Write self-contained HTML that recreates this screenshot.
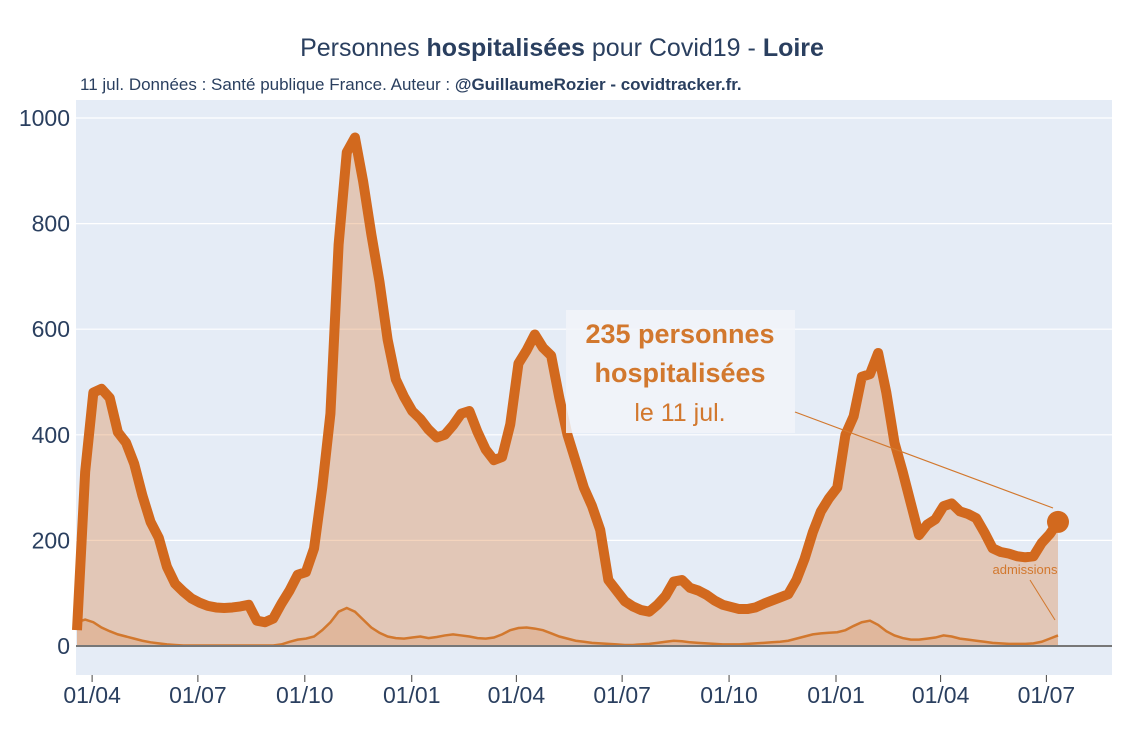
<!DOCTYPE html>
<html><head><meta charset="utf-8"><style>
body{margin:0;background:#fff;}
svg text{font-family:"Liberation Sans",sans-serif;}
</style></head><body>
<svg id="chart" width="1125" height="750" viewBox="0 0 1125 750" xmlns="http://www.w3.org/2000/svg">
<rect x="76" y="100" width="1036" height="575" fill="#e5ecf6"/>
<g id="grid"></g>
<g id="series"></g>
<g id="axes"></g>
<text x="562" y="56" text-anchor="middle" font-size="25" fill="#2a3f5f">Personnes <tspan font-weight="bold">hospitalisées</tspan> pour Covid19 - <tspan font-weight="bold">Loire</tspan></text>
<text x="80" y="90" font-size="17" fill="#2a3f5f">11 jul. Données : Santé publique France. Auteur : <tspan font-weight="bold">@GuillaumeRozier - covidtracker.fr.</tspan></text>
<rect x="566" y="310" width="229" height="123" fill="#f2f4f9" opacity="0.85"/>
<text x="680" y="343" text-anchor="middle" font-size="27" font-weight="bold" fill="#d2782e">235 personnes</text>
<text x="680" y="382" text-anchor="middle" font-size="27" font-weight="bold" fill="#d2782e">hospitalisées</text>
<text x="680" y="421" text-anchor="middle" font-size="25" fill="#d2782e">le 11 jul.</text>
<line x1="795" y1="412" x2="1053" y2="508" stroke="#d2782e" stroke-width="1.2"/>
<text x="1025" y="574" text-anchor="middle" font-size="13" fill="#d2782e">admissions</text>
<line x1="1030" y1="580" x2="1055" y2="620" stroke="#d2782e" stroke-width="1"/>
</svg>
<script>
const hospitalises=[30,330,480,487,470,405,385,345,285,235,205,150,118,103,90,82,76,73,72,73,75,78,48,45,52,80,105,135,140,185,300,440,760,935,963,880,780,690,580,505,472,445,430,410,395,400,418,440,445,405,372,352,358,420,535,560,590,565,550,470,400,350,300,265,220,125,105,85,75,68,65,78,95,122,125,110,105,97,86,78,74,70,70,73,80,86,92,98,125,165,215,255,280,300,400,435,510,515,555,480,385,330,270,210,230,240,265,270,255,250,242,215,185,178,175,170,168,170,195,212,235];
const admissions=[45,50,45,35,28,22,18,14,10,7,5,3,2,1,1,1,1,1,1,1,1,1,1,1,1,3,8,12,14,18,30,45,65,72,65,50,35,25,18,15,14,16,18,15,17,20,22,20,18,15,14,16,22,30,34,35,33,30,24,18,14,10,8,6,5,4,3,2,2,3,4,6,8,10,9,7,6,5,4,3,3,3,4,5,6,7,8,10,14,18,22,24,25,26,30,38,45,48,40,28,20,15,12,12,14,16,20,18,14,12,10,8,6,5,4,4,4,5,8,14,20];
const yTicks=[0,200,400,600,800,1000];
const xTickLabels=["01/04","01/07","01/10","01/01","01/04","01/07","01/10","01/01","01/04","01/07"];
const xTickDates=["2020-04-01","2020-07-01","2020-10-01","2021-01-01","2021-04-01","2021-07-01","2021-10-01","2022-01-01","2022-04-01","2022-07-01"];
const startDate="2020-03-19", endDate="2022-07-11";

const NS="http://www.w3.org/2000/svg";
const t0=Date.parse(startDate), t1=Date.parse(endDate);
const X=t=>77+(t-t0)/(t1-t0)*(1058-77);
const Y=v=>646-v*0.528;
const n=hospitalises.length;
const tAt=i=>t0+i*(t1-t0)/(n-1);
function mk(tag,attrs,parent){const e=document.createElementNS(NS,tag);for(const k in attrs)e.setAttribute(k,attrs[k]);parent.appendChild(e);return e;}
const grid=document.getElementById('grid'),series=document.getElementById('series'),axes=document.getElementById('axes');
yTicks.forEach(v=>{
 if(v>0){const l=mk('line',{x1:76,x2:1112,y1:Y(v),y2:Y(v),stroke:'#fff','stroke-width':1.2},grid);
 
 }
 const t=mk('text',{x:70,y:Y(v)+8,'text-anchor':'end','font-size':23,fill:'#2a3f5f'},axes);t.textContent=v;
 
 
});
xTickDates.forEach((d,i)=>{
 const x=X(Date.parse(d));
 const tk=mk('line',{x1:x,x2:x,y1:675,y2:682,stroke:'#444','stroke-width':1},axes);
 
 
 const t=mk('text',{x:x,y:703,'text-anchor':'middle','font-size':23,fill:'#2a3f5f'},axes);t.textContent=xTickLabels[i];
 
 
});
let pts=hospitalises.map((v,i)=>[X(tAt(i)),Y(v)]);
let area='M'+pts[0][0]+','+Y(0)+pts.map(p=>'L'+p[0]+','+p[1]).join('')+'L'+pts[n-1][0]+','+Y(0)+'Z';
const a=mk('path',{d:area,fill:'rgba(220,120,50,0.32)'},series);


let apts=admissions.map((v,i)=>[X(tAt(i)),Y(v)]);
const aa=mk('path',{d:'M'+apts[0][0]+','+Y(0)+apts.map(p=>'L'+p[0]+','+p[1]).join('')+'L'+apts[n-1][0]+','+Y(0)+'Z',fill:'rgba(220,120,50,0.2)'},series);


const al=mk('path',{d:'M'+apts.map(p=>p[0]+','+p[1]).join('L'),fill:'none',stroke:'#d2782e','stroke-width':2.5},series);


const zl=mk('line',{x1:76,x2:1112,y1:Y(0),y2:Y(0),stroke:'#777','stroke-width':2},series);


const hl=mk('path',{d:'M'+pts.map(p=>p[0]+','+p[1]).join('L'),fill:'none',stroke:'#d2691e','stroke-width':10,'stroke-linejoin':'round'},series);


const m=mk('circle',{cx:pts[n-1][0],cy:pts[n-1][1],r:11,fill:'#d2691e'},series);


</script>
</body></html>
